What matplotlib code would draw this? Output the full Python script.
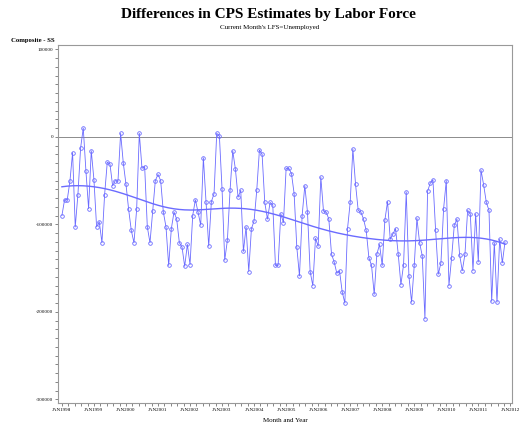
import numpy as np
import matplotlib
matplotlib.use("Agg")
import matplotlib.pyplot as plt
import matplotlib.ticker as ticker

plt.rcParams['font.family'] = ['Liberation Serif', 'DejaVu Serif']

# monthly differences (Composite - SS), Jan 1998 onwards
diff = [-90000, -72000, -72000, -51000, -18000, -103000, -66000, -13000, 10000, -39000,
        -82000, -16000, -49000, -103000, -97000, -121000, -66000, -29000, -31000, -56000,
        -50000, -51000, 4000, -30000, -54000, -83000, -107000, -121000, -83000, 4000,
        -36000, -34000, -103000, -121000, -85000, -50000, -43000, -50000, -86000, -103000,
        -147000, -105000, -86000, -94000, -121000, -126000, -148000, -123000, -146000, -90000,
        -72000, -86000, -101000, -24000, -75000, -125000, -74000, -65000, 4000, 1000,
        -60000, -141000, -118000, -61000, -16000, -37000, -69000, -61000, -131000, -103000,
        -154000, -105000, -96000, -61000, -15000, -20000, -75000, -94000, -75000, -78000,
        -147000, -147000, -88000, -98000, -36000, -36000, -42000, -65000, -126000, -159000,
        -90000, -56000, -86000, -154000, -170000, -116000, -125000, -46000, -85000, -86000,
        -94000, -134000, -143000, -156000, -153000, -177000, -190000, -105000, -75000, -14000,
        -54000, -84000, -86000, -94000, -107000, -138000, -147000, -180000, -134000, -123000,
        -147000, -95000, -74000, -117000, -111000, -105000, -134000, -169000, -146000, -63000,
        -159000, -189000, -147000, -93000, -121000, -136000, -208000, -62000, -53000, -49000,
        -107000, -157000, -144000, -82000, -50000, -170000, -138000, -101000, -94000, -135000,
        -153000, -134000, -84000, -88000, -153000, -88000, -143000, -38000, -55000, -75000,
        -84000, -188000, -121000, -189000, -117000, -144000, -120000]
years = list(range(1998, 2013))
year_labels = ['JAN%d' % y for y in years]
y_ticks = [100000, 0, -100000, -200000, -300000]

months = np.arange(len(diff))
diff = np.array(diff, dtype=float)

# smooth trend: local linear regression with a gaussian kernel
bw = 14.0
trend = np.empty(len(months))
for i, m in enumerate(months):
    w = np.exp(-0.5 * ((months - m) / bw) ** 2)
    X = np.vstack([np.ones_like(months), months - m]).T
    W = np.diag(w)
    beta = np.linalg.solve(X.T @ W @ X, X.T @ W @ diff)
    trend[i] = beta[0]

fig = plt.figure(figsize=(5.24, 4.36), dpi=100)
ax = fig.add_axes([0.111, 0.076, 0.866, 0.821])

col = '#6b6bff'
ax.axhline(0, color='#8c8c8c', lw=0.7, zorder=1)
ax.plot(months, diff, color=col, lw=0.6, marker='o', ms=2.6,
        mfc='none', mec=col, mew=0.6, zorder=3)
ax.plot(months, trend, color=col, lw=1.0, zorder=2)

ax.set_xlim(-1.4, 168.6)
ax.set_ylim(-304000, 105000)
ax.set_xticks([12 * k for k in range(len(years))])
ax.set_xticklabels(year_labels)
ax.xaxis.set_minor_locator(ticker.MultipleLocator(2.4))
ax.set_yticks(y_ticks)
ax.set_yticklabels([str(v) for v in y_ticks])
ax.yaxis.set_minor_locator(ticker.MultipleLocator(10000))

ax.tick_params(which='both', direction='out', length=2.2, width=0.5,
               color='#555555', labelsize=3.6, pad=1.5)
for s in ax.spines.values():
    s.set_color('#999999')
    s.set_linewidth(0.8)

ax.set_xlabel('Month and Year', fontsize=5, labelpad=4)
fig.text(0.063, 0.906, 'Composite - SS', fontsize=4.8, fontweight='bold',
         ha='center', va='center')
fig.text(0.513, 0.966, 'Differences in CPS Estimates by Labor Force',
         fontsize=11, fontweight='bold', ha='center', va='center')
fig.text(0.515, 0.936, "Current Month's LFS=Unemployed", fontsize=5,
         ha='center', va='center')

fig.savefig('out.png', dpi=100)
